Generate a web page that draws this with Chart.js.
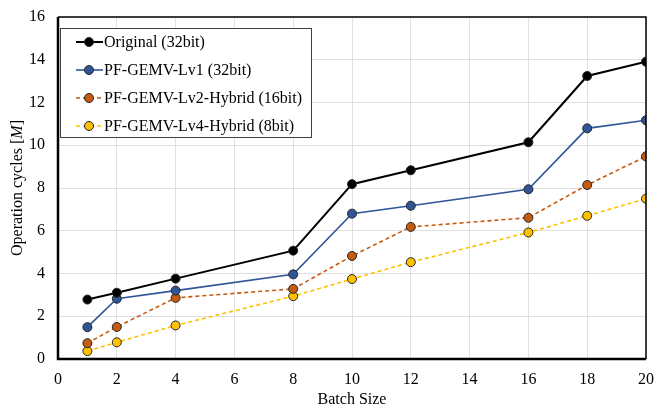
<!DOCTYPE html>
<html>
<head>
<meta charset="utf-8">
<script src="https://cdn.jsdelivr.net/npm/chart.js@4.4.1/dist/chart.umd.min.js"></script>
<style>
  html, body { margin: 0; padding: 0; background: #fff; }
</style>
</head>
<body>
<canvas id="chart" width="654" height="406"></canvas>
<script>
const batchSizes = [1, 2, 4, 8, 10, 12, 16, 18, 20];
const original = [2.78, 3.1, 3.76, 5.07, 8.18, 8.83, 10.14, 13.24, 13.91];
const lv1 = [1.49, 2.82, 3.2, 3.96, 6.8, 7.17, 7.94, 10.79, 11.17];
const lv2 = [0.74, 1.5, 2.86, 3.28, 4.82, 6.18, 6.61, 8.14, 9.48];
const lv4 = [0.37, 0.78, 1.57, 2.94, 3.74, 4.53, 5.92, 6.7, 7.5];
const seriesNames = ['Original (32bit)', 'PF-GEMV-Lv1 (32bit)', 'PF-GEMV-Lv2-Hybrid (16bit)', 'PF-GEMV-Lv4-Hybrid (8bit)'];

const FONT = "'Liberation Serif', 'Times New Roman', serif";

function pts(arr) {
    return batchSizes.map((x, i) => ({ x: x, y: arr[i] }));
}

function series(label, data, color, pointColor, dash, width) {
    return {
        label, data: pts(data),
        borderColor: color, borderWidth: width, borderDash: dash,
        backgroundColor: pointColor, pointBackgroundColor: pointColor,
        pointBorderColor: '#262626', pointBorderWidth: 1,
        pointRadius: 4.5, pointHoverRadius: 4.5, tension: 0
    };
}

// frame, y title with italic M, and a boxed legend inside the plot
const extras = {
    id: 'extras',
    afterDraw(chart) {
        const { ctx, chartArea: a } = chart;
        ctx.save();
        ctx.strokeStyle = '#000';
        ctx.lineWidth = 1.5;
        ctx.beginPath();
        ctx.moveTo(a.left, a.top); ctx.lineTo(a.right, a.top); ctx.lineTo(a.right, a.bottom);
        ctx.stroke();
        ctx.lineWidth = 2.5;
        ctx.beginPath();
        ctx.moveTo(a.left, a.top); ctx.lineTo(a.left, a.bottom); ctx.lineTo(a.right, a.bottom);
        ctx.stroke();

        // y title
        ctx.translate(18, (a.top + a.bottom) / 2);
        ctx.rotate(-Math.PI / 2);
        ctx.fillStyle = '#000';
        ctx.textBaseline = 'middle';
        const p1 = 'Operation cycles [', p2 = 'M', p3 = ']';
        ctx.font = '16px ' + FONT;
        const w1 = ctx.measureText(p1).width, w3 = ctx.measureText(p3).width;
        ctx.font = 'italic 16px ' + FONT;
        const w2 = ctx.measureText(p2).width;
        let x = -(w1 + w2 + w3) / 2;
        ctx.font = '16px ' + FONT;
        ctx.fillText(p1, x, 0); x += w1;
        ctx.font = 'italic 16px ' + FONT;
        ctx.fillText(p2, x, 0); x += w2;
        ctx.font = '16px ' + FONT;
        ctx.fillText(p3, x, 0);
        ctx.restore();

        // legend
        ctx.save();
        ctx.fillStyle = '#fff';
        ctx.fillRect(60, 28, 252, 109);
        ctx.strokeStyle = '#404040';
        ctx.lineWidth = 1;
        ctx.strokeRect(60.5, 28.5, 251, 109);
        chart.data.datasets.forEach((ds, i) => {
            const y = 42 + i * 28;
            ctx.strokeStyle = ds.borderColor;
            ctx.lineWidth = ds.borderWidth;
            ctx.setLineDash(ds.borderDash);
            ctx.beginPath(); ctx.moveTo(76, y); ctx.lineTo(103, y); ctx.stroke();
            ctx.setLineDash([]);
            ctx.fillStyle = ds.pointBackgroundColor;
            ctx.strokeStyle = '#262626';
            ctx.lineWidth = 1;
            ctx.beginPath(); ctx.arc(89, y, 4.5, 0, Math.PI * 2); ctx.fill(); ctx.stroke();
            ctx.fillStyle = '#000';
            ctx.font = '16px ' + FONT;
            ctx.textBaseline = 'middle';
            ctx.fillText(ds.label, 104, y + 1);
        });
        ctx.restore();
    }
};

new Chart(document.getElementById('chart'), {
    type: 'line',
    data: {
        datasets: [
            series(seriesNames[0], original, '#000000', '#000000', [], 2),
            series(seriesNames[1], lv1, '#2f5597', '#2f5597', [], 1.6),
            series(seriesNames[2], lv2, '#c55a11', '#c55a11', [4, 3], 1.6),
            series(seriesNames[3], lv4, '#ffc000', '#ffc000', [4, 3], 1.6)
        ]
    },
    options: {
        responsive: false,
        animation: false,
        layout: { padding: { top: 17, right: 8, left: 0, bottom: 0 } },
        plugins: { legend: { display: false }, tooltip: { enabled: false } },
        scales: {
            x: {
                type: 'linear', min: 0, max: 20,
                ticks: { stepSize: 2, color: '#000', font: { family: FONT, size: 16 }, padding: 11, maxRotation: 0 },
                grid: { color: '#e0e0e0', drawTicks: false },
                border: { display: false },
                title: { display: true, text: 'Batch Size', color: '#000', font: { family: FONT, size: 16 }, padding: { top: 0, bottom: -3 } },
                afterFit(s) { s.height = 47; s.paddingLeft = 0; s.paddingRight = 0; }
            },
            y: {
                min: 0, max: 16,
                ticks: { stepSize: 2, color: '#000', font: { family: FONT, size: 16 }, padding: 13 },
                grid: { color: '#e0e0e0', drawTicks: false },
                border: { display: false },
                afterFit(s) { s.width = 58; s.paddingTop = 0; s.paddingBottom = 0; }
            }
        }
    },
    plugins: [extras]
});
</script>
</body>
</html>
